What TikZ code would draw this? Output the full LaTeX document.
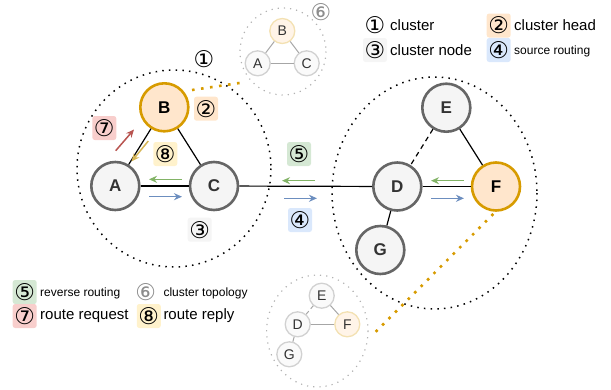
\documentclass[tikz,border=0pt]{standalone}
\usepackage{fontspec}
\setmainfont{Liberation Sans}
\newfontfamily\dv{DejaVu Sans}
\usetikzlibrary{arrows.meta}
\definecolor{gfill}{HTML}{F5F5F5}
\definecolor{gline}{HTML}{666666}
\definecolor{ofill}{HTML}{FFE6CC}
\definecolor{oline}{HTML}{D79B00}
\definecolor{grbox}{HTML}{D5E8D4}
\definecolor{blbox}{HTML}{DAE8FC}
\definecolor{rdbox}{HTML}{F8CECC}
\definecolor{ylbox}{HTML}{FFF2CC}
\definecolor{grarr}{HTML}{82B366}
\definecolor{blarr}{HTML}{6C8EBF}
\definecolor{rdarr}{HTML}{B85450}
\definecolor{ylarr}{HTML}{D6B656}
\definecolor{txt}{HTML}{333333}
\begin{document}
\begin{tikzpicture}[x=1pt,y=-1pt,
  bignode/.style={circle, minimum size=48pt, inner sep=0pt, line width=2.6pt, draw=gline, fill=gfill,
    font=\fontsize{17}{20}\selectfont\bfseries, text=txt},
  headnode/.style={bignode, draw=oline, fill=ofill, text=black},
  smallnode/.style={circle, minimum size=25pt, inner sep=0pt, line width=1.3pt, draw=black!18, fill=black!2,
    font=\fontsize{14}{16}\selectfont, text=txt},
  smallhead/.style={smallnode, draw=oline!30, fill=ofill!45},
  link/.style={line width=1.2pt, black},
  smalllink/.style={line width=1pt, black!35},
  cluster/.style={draw=black, line width=1.5pt, dash pattern=on 1.5pt off 5.2pt},
  smallcluster/.style={draw=black!30, line width=1.2pt, dash pattern=on 1.2pt off 5pt},
  orangedots/.style={draw=oline, line width=2.6pt, dash pattern=on 2.6pt off 6.5pt},
  numbox/.style={rounded corners=2.5pt, minimum width=24pt, minimum height=24pt, inner sep=0pt, font=\dv\fontsize{23}{24}\selectfont},
  plainnum/.style={inner sep=0pt, font=\dv\fontsize{23}{24}\selectfont},
  arr/.style={line width=1.5pt, -{Stealth[length=8pt,width=7pt]}},
  legbig/.style={anchor=west, inner sep=0pt, font=\fontsize{15}{18}\selectfont},
  legsmall/.style={anchor=west, inner sep=0pt, font=\fontsize{12}{14}\selectfont}
]
\useasboundingbox (0,0) rectangle (611,389);

% clusters
\draw[cluster] (174,168.5) ellipse [x radius=97, y radius=98.5];
\draw[cluster] (434.5,193) ellipse [x radius=102.5, y radius=116];
\draw[smallcluster] (283,51.5) ellipse [x radius=43, y radius=43.5];
\draw[smallcluster] (317.3,331) ellipse [x radius=50.7, y radius=56];

% main nodes
\node[headnode] (B) at (164.3,107.3) {B};
\node[bignode] (A) at (115.3,186) {A};
\node[bignode] (C) at (214,186) {C};
\node[bignode] (E) at (446.3,107.7) {E};
\node[bignode] (D) at (397.3,186.5) {D};
\node[headnode] (F) at (496,186.5) {F};
\node[bignode] (G) at (380.3,250) {G};

\draw[link] (A) -- (B);
\draw[link] (B) -- (C);
\draw[link] (A) -- (C);
\draw[link] (C) -- (D);
\draw[link] (D) -- (F);
\draw[link] (E) -- (F);
\draw[link] (D) -- (G);
\draw[link, dash pattern=on 5pt off 4pt] (E) -- (D);

% small topologies
\node[smallhead] (sB) at (282.3,31) {B};
\node[smallnode] (sA) at (257.7,63.3) {A};
\node[smallnode] (sC) at (306.7,63.3) {C};
\draw[smalllink] (sA) -- (sB);
\draw[smalllink] (sB) -- (sC);
\draw[smalllink] (sA) -- (sC);

\node[smallnode] (sE) at (321.7,295.7) {E};
\node[smallnode] (sD) at (297.7,324.3) {D};
\node[smallhead] (sF) at (347.3,324.3) {F};
\node[smallnode] (sG) at (289.3,354.3) {G};
\draw[smalllink, dash pattern=on 4pt off 3pt] (sE) -- (sD);
\draw[smalllink] (sE) -- (sF);
\draw[smalllink] (sD) -- (sF);
\draw[smalllink] (sD) -- (sG);

% orange dotted links to topologies
\coordinate (bo) at (192,90);
\coordinate (to1) at (246,82);
\coordinate (fo) at (493.3,214);
\coordinate (to2) at (372,335.5);
\draw[orangedots] (bo) -- (to1);
\draw[orangedots] (fo) -- (to2);

% arrows
\coordinate (g1s) at (182,179.3); \coordinate (g1e) at (149,179.3);
\coordinate (b1s) at (149,196.7); \coordinate (b1e) at (182,196.7);
\coordinate (g2s) at (315,180.7); \coordinate (g2e) at (282,180.7);
\coordinate (b2s) at (284,198.3); \coordinate (b2e) at (317,198.3);
\coordinate (g3s) at (464,180.7); \coordinate (g3e) at (431,180.7);
\coordinate (b3s) at (431,198.3); \coordinate (b3e) at (464,198.3);
\coordinate (r1s) at (115.7,150.7); \coordinate (r1e) at (134,129.5);
\coordinate (y1s) at (148.3,141); \coordinate (y1e) at (131.5,161.5);
\draw[arr, grarr] (g1s) -- (g1e);
\draw[arr, blarr] (b1s) -- (b1e);
\draw[arr, grarr] (g2s) -- (g2e);
\draw[arr, blarr] (b2s) -- (b2e);
\draw[arr, grarr] (g3s) -- (g3e);
\draw[arr, blarr] (b3s) -- (b3e);
\draw[arr, rdarr] (r1s) -- (r1e);
\draw[arr, ylarr] (y1s) -- (y1e);

% number labels in diagram
\node[plainnum] (n1) at (204,59) {①};
\node[numbox, fill=ofill] (n2) at (206,108.7) {②};
\node[numbox, fill=gfill] (n3) at (199.7,229.7) {③};
\node[numbox, fill=blbox] (n4) at (300,220) {④};
\node[numbox, fill=grbox] (n5) at (299,154) {⑤};
\node[plainnum, text=black!45] (n6) at (321,12.3) {⑥};
\node[numbox, fill=rdbox] (n7) at (104.3,128) {⑦};
\node[numbox, fill=ylbox] (n8) at (165.3,154) {⑧};

% legend top right
\node[plainnum] (l1) at (375,25.5) {①};
\node[legbig] (l1t) at (390,25.5) {cluster};
\node[numbox, fill=ofill] (l2) at (498.7,25.5) {②};
\node[legbig] (l2t) at (514,25.5) {cluster head};
\node[numbox, fill=gfill] (l3) at (375,50) {③};
\node[legbig] (l3t) at (390,50) {cluster node};
\node[numbox, fill=blbox] (l4) at (498.7,50) {④};
\node[legsmall] (l4t) at (514,51) {source routing};

% legend bottom left
\node[numbox, fill=grbox] (l5) at (24.7,292) {⑤};
\node[legsmall] (l5t) at (40,293) {reverse routing};
\node[plainnum, text=black!45] (l6) at (145.7,292) {⑥};
\node[legsmall] (l6t) at (163.3,293) {cluster topology};
\node[numbox, fill=rdbox] (l7) at (24.7,316) {⑦};
\node[legbig] (l7t) at (40,316) {route request};
\node[numbox, fill=ylbox] (l8) at (148.8,316) {⑧};
\node[legbig] (l8t) at (163.3,316) {route reply};
\end{tikzpicture}
\end{document}
